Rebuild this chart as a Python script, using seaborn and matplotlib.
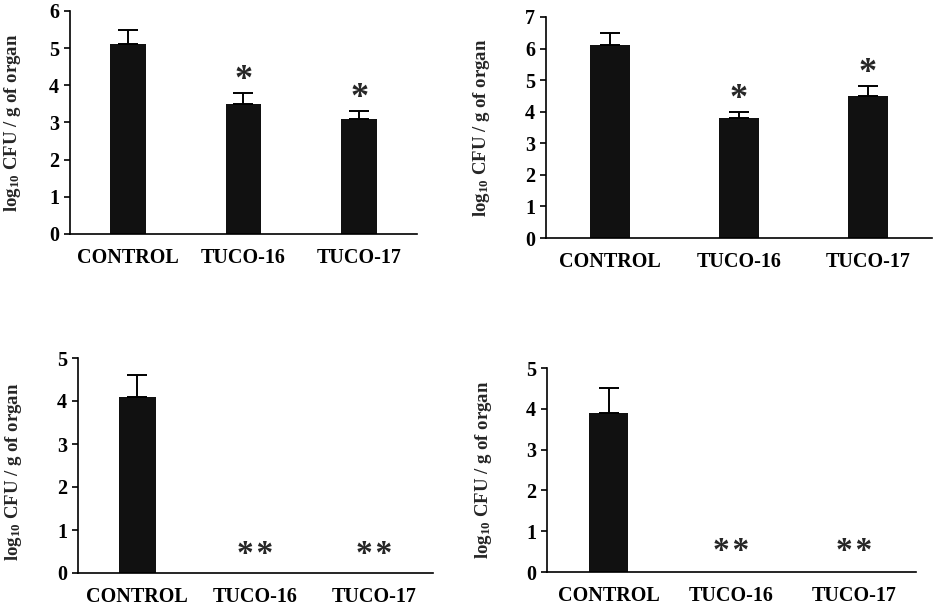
import matplotlib
matplotlib.use('Agg')
import matplotlib.pyplot as plt
import seaborn as sns
import pandas as pd

groups = ['CONTROL', 'TUCO-16', 'TUCO-17']

# log10 CFU / g of organ, mean and upper error, one pair per panel
a_mean = [5.1, 3.5, 3.1]
a_err = [0.4, 0.3, 0.2]
b_mean = [6.1, 3.8, 4.5]
b_err = [0.4, 0.2, 0.3]
c_mean = [4.1, 0.0, 0.0]
c_err = [0.5, 0.0, 0.0]
d_mean = [3.9, 0.0, 0.0]
d_err = [0.6, 0.0, 0.0]

a_sig = ['', '*', '*']
b_sig = ['', '*', '*']
c_sig = ['', '*\u200a*', '*\u200a*']
d_sig = ['', '*\u200a*', '*\u200a*']

sns.set_theme(style='ticks')
plt.rcParams['font.family'] = ['Liberation Serif', 'DejaVu Serif']
plt.rcParams['font.weight'] = 'bold'
plt.rcParams['mathtext.fontset'] = 'custom'
plt.rcParams['mathtext.rm'] = 'Liberation Serif:bold'
plt.rcParams['mathtext.default'] = 'rm'

W, H = 935, 608
fig = plt.figure(figsize=(9.35, 6.08), dpi=100)


def box(left, top, right, bottom):
    return [left / W, (H - bottom) / H, (right - left) / W, (bottom - top) / H]


ylabel = r'log$_{10}$ CFU / g of organ'

panels = [
    (box(70, 11, 417, 234), a_mean, a_err, a_sig, 6, -0.165, 0.5, 9, 26),
    (box(546, 17, 932, 238), b_mean, b_err, b_sig, 7, -0.166, 0.5, 9, 26),
    (box(78, 358, 433, 573), c_mean, c_err, c_sig, 5, -0.183, 0.47, 13, 24),
    (box(547, 368, 916, 572), d_mean, d_err, d_sig, 5, -0.173, 0.5, 15, 24),
]

for rect, mean, err, sig, ymax, lx, ly, off, sfs in panels:
    ax = fig.add_axes(rect)
    df = pd.DataFrame({'group': groups, 'value': mean})
    sns.barplot(data=df, x='group', y='value', order=groups, color='#111111',
                saturation=1, width=0.31, linewidth=0, ax=ax)
    xs = [i for i, e in enumerate(err) if e > 0]
    ax.errorbar(xs, [mean[i] for i in xs],
                yerr=[[0] * len(xs), [err[i] for i in xs]],
                fmt='none', ecolor='black', elinewidth=1.4, capsize=7, capthick=1.4)
    for i, s in enumerate(sig):
        if s:
            ax.annotate(s, (i, mean[i] + err[i]), xytext=(0, off),
                        textcoords='offset points', ha='center', va='center',
                        fontsize=sfs, fontweight='bold')
    ax.set_ylim(0, ymax)
    ax.set_yticks(range(ymax + 1))
    ax.set_xlim(-0.5, 2.5)
    sns.despine(ax=ax)
    for sp in ['left', 'bottom']:
        ax.spines[sp].set_linewidth(1.2)
        ax.spines[sp].set_color('black')
    ax.tick_params(axis='y', direction='out', length=4, width=1.2, pad=4,
                   labelsize=14.5, colors='black')
    ax.tick_params(axis='x', length=0, pad=10, labelsize=14.5, colors='black')
    for t in ax.get_xticklabels() + ax.get_yticklabels():
        t.set_fontweight('bold')
    ax.set_xlabel('')
    ax.set_ylabel(ylabel, fontsize=13.5, fontweight='bold', va='center')
    ax.yaxis.set_label_coords(lx, ly)
    ax.set_facecolor('white')

fig.savefig('out.png', dpi=100, facecolor='white')
